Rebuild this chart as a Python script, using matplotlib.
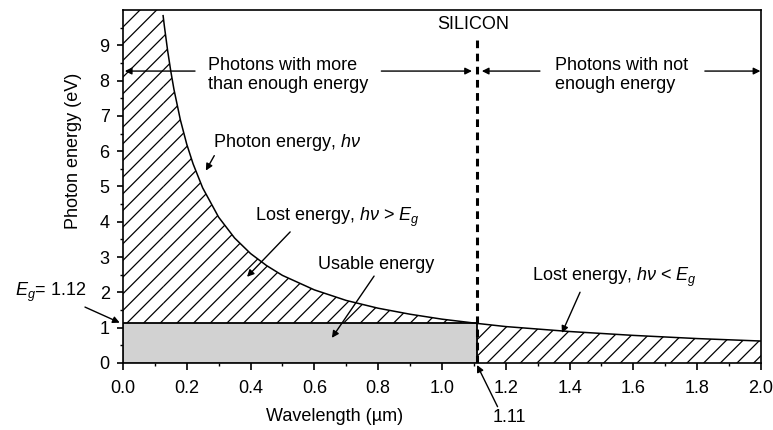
import matplotlib
matplotlib.use("Agg")
import matplotlib.pyplot as plt
import numpy as np

plt.rcParams['font.family'] = ['Liberation Sans', 'DejaVu Sans']
plt.rcParams['mathtext.fontset'] = 'custom'
plt.rcParams['mathtext.rm'] = 'Liberation Sans'
plt.rcParams['mathtext.it'] = 'Liberation Sans:italic'
plt.rcParams['hatch.linewidth'] = 0.9

# Photon energy (eV) versus wavelength (um)
wavelength = [0.126, 0.13, 0.14, 0.15, 0.16, 0.18, 0.20, 0.22, 0.25, 0.30,
              0.35, 0.40, 0.45, 0.50, 0.60, 0.70, 0.80, 0.90, 1.00, 1.11,
              1.20, 1.40, 1.60, 1.80, 2.00]
energy = [9.84, 9.54, 8.86, 8.27, 7.75, 6.89, 6.20, 5.64, 4.96, 4.13,
          3.54, 3.10, 2.76, 2.48, 2.07, 1.77, 1.55, 1.38, 1.24, 1.12,
          1.03, 0.89, 0.78, 0.69, 0.62]
band_gap = 1.12        # eV, silicon
cutoff = 1.11          # um
x_ticks = [0.0, 0.2, 0.4, 0.6, 0.8, 1.0, 1.2, 1.4, 1.6, 1.8, 2.0]
y_ticks = [0, 1, 2, 3, 4, 5, 6, 7, 8, 9]

lam = np.array(wavelength)
ev = np.array(energy)

fig = plt.figure(figsize=(7.73, 4.30), dpi=100)
ax = fig.add_axes([0.159, 0.156, 0.8255, 0.8207])

# excess energy above the gap (short wavelengths)
short = lam <= cutoff
ax.fill_between(lam[short], band_gap, ev[short], facecolor='none',
                edgecolor='black', hatch='//', linewidth=0)
ax.fill_between([0, lam[short][0]], band_gap, 10, facecolor='none',
                edgecolor='black', hatch='//', linewidth=0)
# photons below the gap (long wavelengths)
long_ = lam >= cutoff
ax.fill_between(lam[long_], 0, ev[long_], facecolor='none',
                edgecolor='black', hatch='//', linewidth=0)
# usable energy
ax.bar(0, band_gap, width=cutoff, align='edge', color='#d2d2d2',
       edgecolor='black', linewidth=1.3, zorder=3)

ax.plot(lam, ev, color='black', lw=1.1, zorder=4)
ax.plot([cutoff, cutoff], [0, 9.15], color='black', lw=2.2,
        ls=(0, (2.5, 1.8)), zorder=5)

ax.set_xlim(0, 2.0)
ax.set_ylim(0, 10.0)
ax.set_xticks(x_ticks)
ax.set_xticklabels([f"{v:.1f}" for v in x_ticks])
ax.set_yticks(y_ticks)
ax.set_xticks(np.arange(0.1, 2.0, 0.2), minor=True)
ax.set_yticks(np.arange(0.5, 10.0, 1.0), minor=True)
ax.tick_params(which='major', direction='out', length=4.5, width=1.2,
               labelsize=13, pad=5)
ax.tick_params(axis='x', which='major', length=5, pad=7)
ax.tick_params(which='minor', direction='out', length=2.5, width=1.0)
for s in ax.spines.values():
    s.set_linewidth(1.2)

ax.set_xlabel('Wavelength (\u00b5m)', fontsize=13)
ax.xaxis.set_label_coords(0.331, -0.128)
ax.set_ylabel('Photon energy (eV)', fontsize=13)
ax.yaxis.set_label_coords(-0.064, 0.60)

fs = 13
ap = dict(arrowstyle='-|>', lw=1.0, color='black', mutation_scale=10,
          shrinkA=0, shrinkB=0)

ax.text(1.097, 9.6, 'SILICON', ha='center', va='center', fontsize=fs)

y_arr = 8.27
ax.text(0.266, 8.15, 'Photons with more\nthan enough energy', ha='left',
        va='center', fontsize=fs, linespacing=1.15)
ax.annotate('', xy=(0.006, y_arr), xytext=(0.226, y_arr), arrowprops=ap)
ax.annotate('', xy=(1.094, y_arr), xytext=(0.81, y_arr), arrowprops=ap)
ax.text(1.354, 8.15, 'Photons with not\nenough energy', ha='left',
        va='center', fontsize=fs, linespacing=1.15)
ax.annotate('', xy=(1.125, y_arr), xytext=(1.307, y_arr), arrowprops=ap)
ax.annotate('', xy=(1.998, y_arr), xytext=(1.824, y_arr), arrowprops=ap)

ax.annotate('Photon energy, $h\\nu$', xy=(0.26, 5.45), xytext=(0.282, 6.25),
            ha='left', va='center', fontsize=fs,
            arrowprops=dict(ap, relpos=(0.02, 0.0)))
ax.annotate('Lost energy, $h\\nu$ > $E_g$', xy=(0.389, 2.44),
            xytext=(0.414, 4.12), ha='left', va='center', fontsize=fs,
            arrowprops=dict(ap, relpos=(0.23, 0.0)))
ax.annotate('Usable energy', xy=(0.655, 0.71), xytext=(0.611, 2.78),
            ha='left', va='center', fontsize=fs,
            arrowprops=dict(ap, relpos=(0.5, 0.0)))
ax.annotate('Lost energy, $h\\nu$ < $E_g$', xy=(1.376, 0.85),
            xytext=(1.282, 2.41), ha='left', va='center', fontsize=fs,
            arrowprops=dict(ap, relpos=(0.3, 0.0)))
ax.annotate('$E_g$= 1.12', xy=(-0.01, 1.14), xytext=(-0.339, 1.99),
            ha='left', va='center', fontsize=fs, annotation_clip=False,
            arrowprops=dict(ap, relpos=(0.9, 0.0)))
ax.annotate('1.11', xy=(1.11, -0.06), xytext=(1.21, -1.56),
            ha='center', va='center', fontsize=fs, annotation_clip=False,
            arrowprops=dict(ap, relpos=(0.2, 1.0)))

fig.savefig('out.png', dpi=100)
